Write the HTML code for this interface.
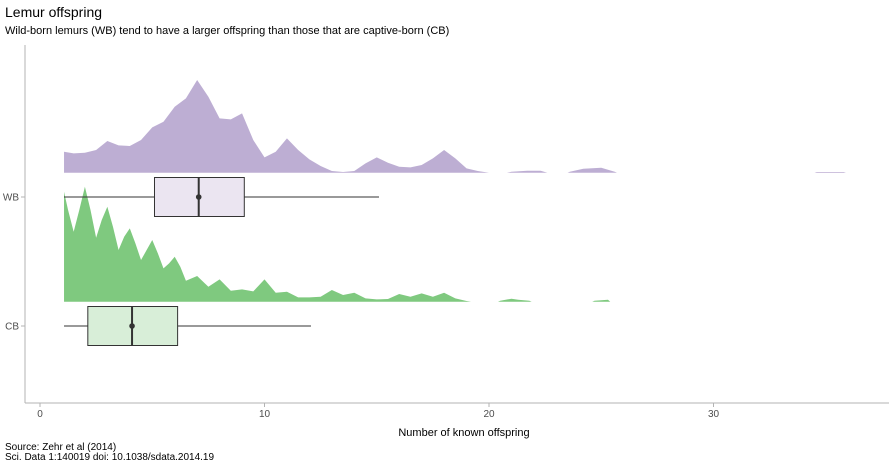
<!DOCTYPE html>
<html><head><meta charset="utf-8"><style>
body{margin:0;background:#fff;font-family:"Liberation Sans",Arial,sans-serif;}
svg text{font-family:"Liberation Sans",Arial,sans-serif;}
</style></head><body>
<svg id="chart" width="896" height="467" viewBox="0 0 896 467" xmlns="http://www.w3.org/2000/svg">
<text x="5" y="17" font-size="14" fill="#000">Lemur offspring</text>
<text x="5" y="34" font-size="11" fill="#000">Wild-born lemurs (WB) tend to have a larger offspring than those that are captive-born (CB)</text>
<g id="plot"></g>
<line x1="25" y1="45" x2="25" y2="403" stroke="#b3b3b3" stroke-width="1"/>
<line x1="25" y1="403" x2="889" y2="403" stroke="#b3b3b3" stroke-width="1"/>
<text x="464" y="436" font-size="11" text-anchor="middle" fill="#000">Number of known offspring</text>
<text x="5" y="450" font-size="10" fill="#000">Source: Zehr et al (2014)</text>
<text x="5" y="460" font-size="10" fill="#000">Sci. Data 1:140019 doi: 10.1038/sdata.2014.19</text>
</svg>
<script>
const groups = ["WB","CB"];
const xTicks = [0,10,20,30];
const wbX = [1.07,1.5,2,2.5,3,3.5,4,4.5,5,5.5,6,6.5,7,7.5,8,8.5,9,9.5,10,10.5,11,11.5,12,12.5,13,13.5,14,14.5,15,15.5,16,16.5,17,17.5,18,18.5,19,19.5,20,20.8,21,21.7,22.3,22.6,23.5,23.6,24.2,25,25.6,25.7,34.5,34.6,35.8,35.9];
const wbD = [63,58,60,68,95,82,80,98,136,153,198,223,278,228,163,160,178,98,46,63,103,68,40,20,5,2,5,28,46,30,18,16,23,43,68,43,13,5,0,0,3,6,6,0,0,3,12,15,3,0,0,2,2,0];
const cbX = [1.07,1.25,1.5,1.75,2,2.25,2.5,2.75,3,3.25,3.5,3.75,4,4.25,4.5,4.75,5,5.25,5.5,5.75,6,6.25,6.5,7,7.5,8,8.5,9,9.5,10,10.5,11,11.5,12,12.5,13,13.5,14,14.5,15,15.5,16,16.5,17,17.5,18,18.5,19,19.2,20.4,20.5,21,21.3,21.8,21.9,24.6,24.7,25.3,25.4];
const cbD = [330,275,210,275,345,275,192,245,285,225,155,195,220,175,125,155,185,145,100,115,135,105,63,77,45,67,33,37,31,67,27,30,13,13,15,35,20,27,10,7,8,23,15,25,15,27,10,2,0,0,3,9,6,3,0,0,3,6,0];
const boxLow = [1.07,1.07], boxQ1 = [5.1,2.13], boxMed = [7.07,4.1], boxQ3 = [9.1,6.13], boxHigh = [15.1,12.07];

const NS="http://www.w3.org/2000/svg";
const plot=document.getElementById('plot');
const svg=document.getElementById('chart');
const xS=v=>40+v*22.45;
const hS=d=>d/3;
const baselines={WB:172.7,CB:301.7};
const centers={WB:197,CB:326};
const fills={WB:"#bdaed3",CB:"#7fc97f"};
const boxFills={WB:"#ebe5f1",CB:"#d8eed8"};
function mk(tag,attrs){const e=document.createElementNS(NS,tag);for(const k in attrs)e.setAttribute(k,attrs[k]);return e;}

xTicks.forEach(t=>{
  const l=mk('line',{x1:xS(t),x2:xS(t),y1:403,y2:407,stroke:'#b3b3b3'});
  
  
  svg.appendChild(l);
  const tx=mk('text',{x:xS(t),y:417,'font-size':10,'text-anchor':'middle',fill:'#4d4d4d'});
  tx.textContent=t;
  
  
  svg.appendChild(tx);
});
groups.forEach(g=>{
  const l=mk('line',{x1:21,x2:25,y1:centers[g],y2:centers[g],stroke:'#b3b3b3'});
  
  
  svg.appendChild(l);
  const tx=mk('text',{x:19,y:centers[g]+3.5,'font-size':10,'text-anchor':'end',fill:'#4d4d4d'});
  tx.textContent=g;
  
  
  svg.appendChild(tx);
});
[[wbX,wbD,'WB'],[cbX,cbD,'CB']].forEach(([xs,ds,g])=>{
  const b=baselines[g];
  let p=`M${xS(xs[0])},${b}`;
  xs.forEach((x,i)=>{p+=` L${xS(x)},${b-hS(ds[i])}`;});
  p+=` L${xS(xs[xs.length-1])},${b} Z`;
  const path=mk('path',{d:p,fill:fills[g],'stroke-linejoin':'round'});
  
  
  plot.appendChild(path);
});
groups.forEach((g,i)=>{
  const c=centers[g],h=39;
  const wl=mk('line',{x1:xS(boxLow[i]),x2:xS(boxQ1[i]),y1:c,y2:c,stroke:'#333','stroke-width':1});
  
  
  plot.appendChild(wl);
  const wh=mk('line',{x1:xS(boxQ3[i]),x2:xS(boxHigh[i]),y1:c,y2:c,stroke:'#333','stroke-width':1});
  
  
  plot.appendChild(wh);
  const r=mk('rect',{x:xS(boxQ1[i]),y:c-h/2,width:xS(boxQ3[i])-xS(boxQ1[i]),height:h,fill:boxFills[g],stroke:'#333','stroke-width':1});
  
  
  plot.appendChild(r);
  const m=mk('line',{x1:xS(boxMed[i]),x2:xS(boxMed[i]),y1:c-h/2,y2:c+h/2,stroke:'#333','stroke-width':2});
  
  
  plot.appendChild(m);
  const d=mk('circle',{cx:xS(boxMed[i]),cy:c,r:2.8,fill:'#333'});
  
  
  plot.appendChild(d);
});
</script>
</body></html>
